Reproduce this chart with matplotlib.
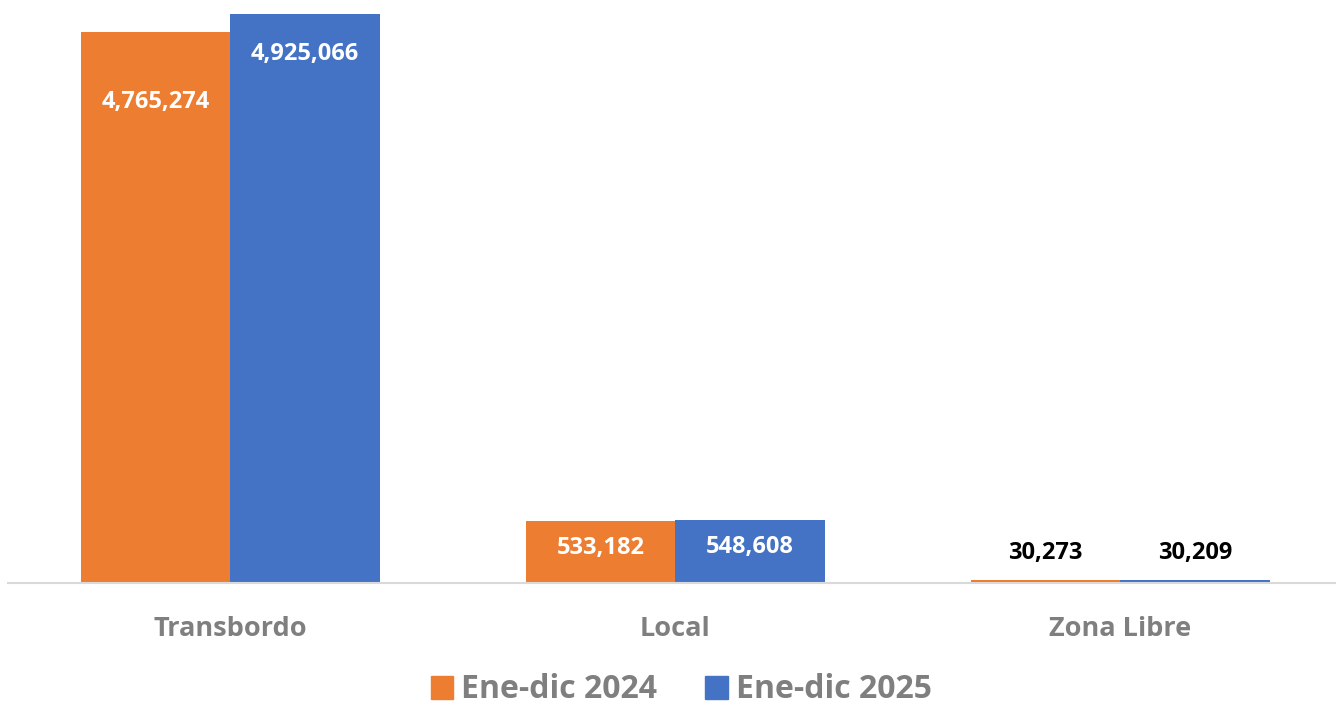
import matplotlib.pyplot as plt
import numpy as np
from matplotlib.patches import Patch

categorias = ["Transbordo", "Local", "Zona Libre"]
ene_dic_2024 = [4765274, 533182, 30273]
ene_dic_2025 = [4925066, 548608, 30209]
series = ["Ene-dic 2024", "Ene-dic 2025"]

NARANJA = "#ED7D31"
AZUL = "#4472C4"
GRIS = "#7F7F7F"

plt.rcParams["font.family"] = ["Open Sans", "DejaVu Sans"]

fig = plt.figure(figsize=(13.36, 7.06), dpi=100)
ax = fig.add_axes([8 / 1336, 123 / 706, 1328 / 1336, 578 / 706])

x = np.arange(len(categorias))
w = 0.336
b1 = ax.bar(x - w / 2, ene_dic_2024, w, color=NARANJA, label=series[0])
b2 = ax.bar(x + w / 2, ene_dic_2025, w, color=AZUL, label=series[1])

ax.set_xlim(-0.5, 2.485)
ax.set_ylim(0, 5000000)

# etiquetas de datos (desplazamiento en puntos respecto al tope de la barra)
offsets_2024 = [-50, -19, 19]
offsets_2025 = [-29, -20, 19]
for barras, offs in ((b1, offsets_2024), (b2, offsets_2025)):
    for rect, off in zip(barras, offs):
        color = "white" if off < 0 else "black"
        ax.annotate(f"{int(rect.get_height()):,}",
                    (rect.get_x() + rect.get_width() / 2, rect.get_height()),
                    xytext=(0, off), textcoords="offset points",
                    ha="center", va="center", fontsize=17, fontweight="bold",
                    color=color)

ax.set_xticks(x)
ax.set_xticklabels(categorias, fontsize=19.5, fontweight="bold", color=GRIS)
ax.tick_params(axis="x", length=0, pad=24)
ax.set_yticks([])
for s in ("top", "right", "left"):
    ax.spines[s].set_visible(False)
ax.spines["bottom"].set_color("#D9D9D9")
ax.spines["bottom"].set_linewidth(1.5)

handles = [Patch(color=NARANJA), Patch(color=AZUL)]
fig.legend(handles, series, loc="center", bbox_to_anchor=(0.51, 1 - 690 / 706),
           ncol=2, frameon=False, handlelength=0.7, handleheight=0.7,
           handletextpad=0.25, columnspacing=1.5,
           prop={"size": 23, "weight": "bold"}, labelcolor=GRIS)

plt.savefig("out.png", dpi=100)
plt.close()
